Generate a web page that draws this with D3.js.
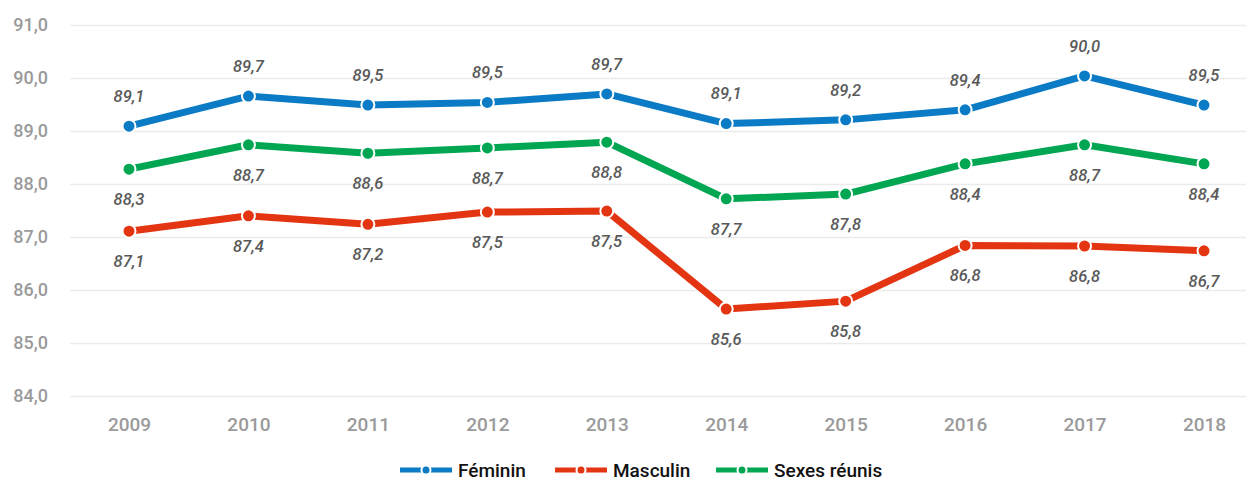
<html>
<head>
<meta charset="utf-8">
<script src="https://cdn.jsdelivr.net/npm/d3@7"></script>
<style>
  body { margin: 0; background: #fff; font-family: Roboto, "Noto Sans", sans-serif; }
</style>
</head>
<body>
<script>
  const w = 1247;
  const h = 481;

  const years = ["2009", "2010", "2011", "2012", "2013", "2014", "2015", "2016", "2017", "2018"];
  const feminin = [89.09, 89.66, 89.49, 89.54, 89.70, 89.14, 89.21, 89.40, 90.04, 89.49];
  const masculin = [87.11, 87.40, 87.24, 87.47, 87.49, 85.64, 85.79, 86.84, 86.83, 86.74];
  const sexes = [88.28, 88.74, 88.58, 88.68, 88.79, 87.72, 87.81, 88.38, 88.74, 88.38];
  const yTicks = [84, 85, 86, 87, 88, 89, 90, 91];

  const series = [
    { name: "Féminin", values: feminin, color: "#0a7bc4", above: true },
    { name: "Masculin", values: masculin, color: "#e33512", above: false },
    { name: "Sexes réunis", values: sexes, color: "#00a651", above: false }
  ];

  const fmt = v => d3.format(".1f")(v).replace(".", ",");

  const x = d3.scalePoint().domain(years).range([129, 1204]);
  const y = d3.scaleLinear().domain([84, 91]).range([396, 25]);

  const svg = d3.select("body").append("svg")
    .attr("width", w)
    .attr("height", h);

  // grid + y labels
  const yAxis = d3.axisLeft(y).tickValues(yTicks).tickSize(-1176).tickFormat(fmt).tickPadding(22);
  const gy = svg.append("g").attr("transform", "translate(70,0)").call(yAxis);
  gy.select(".domain").remove();
  gy.selectAll(".tick line").attr("stroke", "#ebebeb").attr("stroke-width", 1.5);
  gy.selectAll(".tick text")
    .attr("fill", "#9a9a9a")
    .style("font-family", "Roboto")
    .style("font-size", "18px")
    .style("font-weight", "500");

  // x labels
  const xAxis = d3.axisBottom(x).tickSize(0).tickPadding(22);
  const gx = svg.append("g").attr("transform", "translate(0,396)").call(xAxis);
  gx.select(".domain").remove();
  gx.selectAll(".tick text")
    .attr("fill", "#9a9a9a")
    .style("font-family", "Roboto")
    .style("font-size", "19px")
    .style("font-weight", "500");

  const line = d3.line().x((d, i) => x(years[i])).y(d => y(d));

  series.forEach(s => {
    svg.append("path")
      .datum(s.values)
      .attr("d", line)
      .attr("fill", "none")
      .attr("stroke", s.color)
      .attr("stroke-width", 7)
      .attr("stroke-linejoin", "round");

    svg.append("g").selectAll("circle")
      .data(s.values)
      .join("circle")
      .attr("cx", (d, i) => x(years[i]))
      .attr("cy", d => y(d))
      .attr("r", 6.5)
      .attr("fill", s.color)
      .attr("stroke", "#fff")
      .attr("stroke-width", 2);

    svg.append("g").selectAll("text")
      .data(s.values)
      .join("text")
      .attr("x", (d, i) => x(years[i]))
      .attr("y", d => y(d) + (s.above ? -30 : 30))
      .attr("dy", "0.35em")
      .attr("text-anchor", "middle")
      .attr("fill", "#595959")
      .style("font-family", "Roboto")
      .style("font-size", "16.5px")
      .style("font-style", "italic")
      .style("font-weight", "500")
      .text(d => fmt(d));
  });

  // legend
  const legendX = [400, 555, 716];
  const legend = svg.append("g").attr("transform", "translate(0,470)");
  series.forEach((s, i) => {
    const g = legend.append("g").attr("transform", "translate(" + legendX[i] + ",0)");
    g.append("line").attr("x1", 0).attr("x2", 52).attr("y1", 0).attr("y2", 0)
      .attr("stroke", s.color).attr("stroke-width", 5);
    g.append("circle").attr("cx", 26).attr("cy", 0).attr("r", 4.5)
      .attr("fill", s.color).attr("stroke", "#fff").attr("stroke-width", 2);
    g.append("text").attr("x", 58).attr("y", 0).attr("dy", "0.35em")
      .attr("fill", "#111")
      .style("font-family", "Roboto")
      .style("font-size", "19px")
      .style("font-weight", "500")
      .text(s.name);
  });
</script>
</body>
</html>
